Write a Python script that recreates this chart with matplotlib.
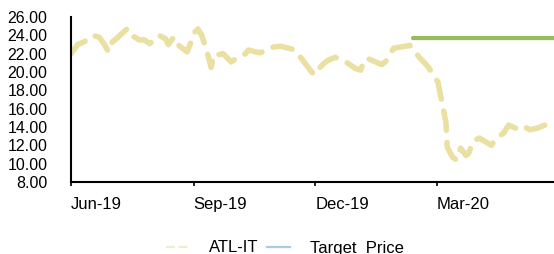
import numpy as np
import matplotlib
matplotlib.use("Agg")
import matplotlib.pyplot as plt
from matplotlib.lines import Line2D

plt.rcParams['font.family'] = ['Liberation Sans', 'DejaVu Sans']

# цены ATL-IT
price_dates = ["2019-06-01", "2019-06-06", "2019-06-11", "2019-06-17", "2019-06-22",
               "2019-06-26", "2019-06-29", "2019-07-02", "2019-07-04", "2019-07-13",
               "2019-07-15", "2019-07-19", "2019-07-22", "2019-07-26", "2019-07-30",
               "2019-08-06", "2019-08-11", "2019-08-13", "2019-08-17", "2019-08-19",
               "2019-08-27", "2019-08-30", "2019-09-02", "2019-09-04", "2019-09-07",
               "2019-09-11", "2019-09-14", "2019-09-16", "2019-09-20", "2019-09-23",
               "2019-09-29", "2019-10-03", "2019-10-09", "2019-10-12", "2019-10-17",
               "2019-10-21", "2019-10-29", "2019-11-05", "2019-11-11", "2019-11-16",
               "2019-11-20", "2019-11-30", "2019-12-04", "2019-12-08", "2019-12-11",
               "2019-12-16", "2019-12-22", "2019-12-31", "2020-01-04", "2020-01-07",
               "2020-01-09", "2020-01-20", "2020-01-24", "2020-01-27", "2020-01-29",
               "2020-02-10", "2020-02-13", "2020-02-17", "2020-02-21", "2020-02-24",
               "2020-03-02", "2020-03-08", "2020-03-09", "2020-03-13", "2020-03-16",
               "2020-03-19", "2020-03-23", "2020-03-25", "2020-03-28", "2020-04-02",
               "2020-04-11", "2020-04-15", "2020-04-20", "2020-04-24", "2020-05-02",
               "2020-05-06", "2020-05-10", "2020-05-16", "2020-05-21"]
price_values = [22.0, 23.0, 23.3, 24.0, 23.8,
                23.0, 22.2, 23.3, 23.5, 24.7,
                24.0, 23.8, 23.5, 23.5, 23.1,
                24.0, 23.6, 23.0, 23.8, 23.1,
                22.2, 23.3, 24.4, 24.7, 24.0,
                22.2, 20.5, 21.9, 21.9, 22.0,
                21.1, 21.5, 21.9, 22.4, 22.2,
                22.1, 22.7, 22.8, 22.6, 22.4,
                21.6, 19.7, 20.4, 21.0, 21.3,
                21.6, 21.3, 20.4, 20.2, 21.3,
                21.5, 20.8, 21.3, 22.2, 22.6,
                22.9, 22.4, 21.6, 21.0, 20.5,
                18.9, 14.5, 11.8, 10.7, 10.4,
                11.7, 10.9, 11.1, 12.4, 12.8,
                12.0, 12.8, 13.3, 14.2, 13.7,
                14.0, 13.7, 13.9, 14.2]

target_dates = ["2020-02-12", "2020-05-28"]
target_values = [23.6, 23.6]
current_values = [23.7, 23.7]

tick_dates = ["2019-06-01", "2019-09-01", "2019-12-01", "2020-03-01"]
tick_labels = ["Jun-19", "Sep-19", "Dec-19", "Mar-20"]
y_ticks = np.arange(8, 27, 2)

px = np.array(price_dates, dtype="datetime64[D]")
tx = np.array(target_dates, dtype="datetime64[D]")
ticks = np.array(tick_dates, dtype="datetime64[D]")

fig = plt.figure(figsize=(5.54, 2.54), dpi=100)
ax = fig.add_axes([71/554, 1 - 182/254, 1 - 71/554, (182 - 17)/254])

ax.plot(px, price_values, color='#EAE0A2', lw=4.0, linestyle=(0, (3.5, 2.2)),
        dash_capstyle='round', solid_joinstyle='round', zorder=2)
ax.plot(tx, target_values, color='#A9CCE3', lw=1.6, zorder=3)
ax.plot(tx, current_values, color='#9BBB59', lw=3.0, solid_capstyle='round', zorder=4)

ax.set_ylim(8, 26)
ax.set_xlim(np.datetime64("2019-06-01"), np.datetime64("2020-05-28"))
ax.set_yticks(y_ticks)
ax.set_yticklabels([f"{v:.2f}" for v in y_ticks], fontsize=11.5)
ax.set_xticks(ticks)
ax.set_xticklabels(tick_labels, fontsize=12, ha='left')
ax.tick_params(axis='y', length=0, pad=17)
ax.tick_params(axis='x', length=3, width=1.2, pad=8, direction='out')

for s in ['top', 'right']:
    ax.spines[s].set_visible(False)
for s in ['left', 'bottom']:
    ax.spines[s].set_linewidth(1.5)
    ax.spines[s].set_color('black')

handles = [Line2D([], [], color='#F2ECCD', lw=1.6, linestyle=(0, (4, 1.6))),
           Line2D([], [], color='#A9CCE3', lw=1.6)]
labels = ['ATL-IT', 'Target  Price']
fig.legend(handles, labels, loc='center', bbox_to_anchor=(285/554, 1 - 248/254),
           ncol=2, frameon=False, fontsize=12, handlelength=1.4,
           handletextpad=1.2, columnspacing=0.5)

fig.savefig("out.png", dpi=100)
